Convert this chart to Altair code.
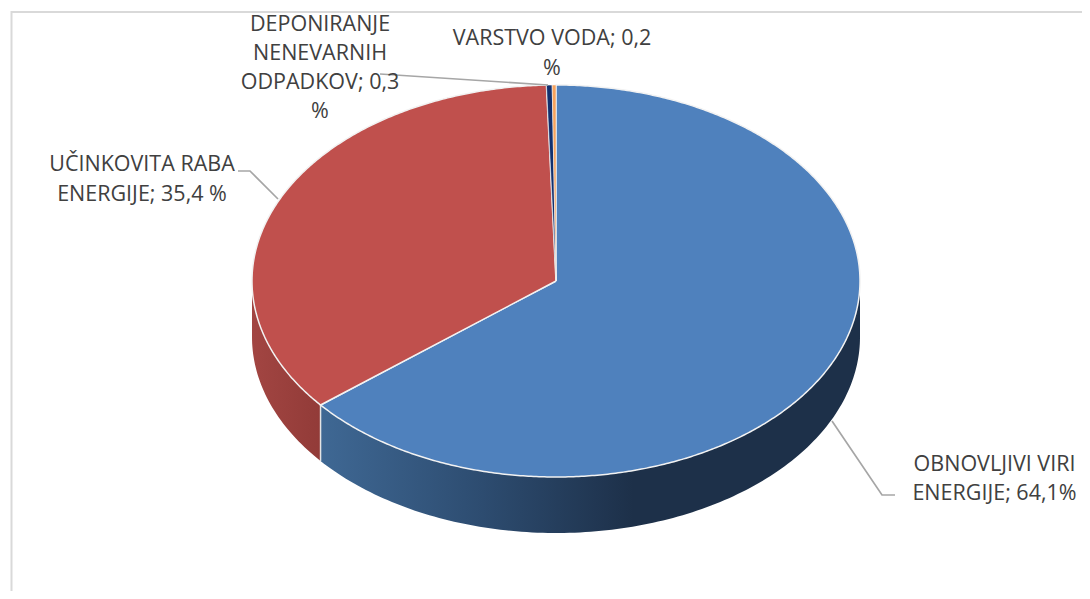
import math
import altair as alt
import pandas as pd

# ---- chart values ----
categories = ["OBNOVLJIVI VIRI ENERGIJE", "UČINKOVITA RABA ENERGIJE",
              "DEPONIRANJE NENEVARNIH ODPADKOV", "VARSTVO VODA"]
shares = [64.1, 35.4, 0.3, 0.2]
label_lines = [
    ["OBNOVLJIVI VIRI", "ENERGIJE; 64,1%"],
    ["UČINKOVITA RABA", "ENERGIJE; 35,4 %"],
    ["DEPONIRANJE", "NENEVARNIH", "ODPADKOV; 0,3", "%"],
    ["VARSTVO VODA; 0,2", "%"],
]

# ---- layout & style (pixel space of the page) ----
CX, CY, RX, RY, DEPTH = 556, 281, 304, 196, 56
top_colors = ["#4f81bd", "#c0504d", "#12306e", "#f7a25c"]
label_anchor = [(994.5, 471, 29), (142, 171, 30), (320, 31, 29), (552, 45, 30)]
leaders = [
    [(832, 421), (882, 495), (895, 495)],
    [(238, 171), (250, 171), (278, 199)],
    [(380, 74), (548, 85)],
]
frame = [(1082, 12), (11.5, 12), (11.5, 591)]
FONT = "Open Sans"

X = alt.X("x:Q", axis=None, scale=alt.Scale(domain=[8, 1082], range=[0, 1074]))
Y = alt.Y("y:Q", axis=None, scale=alt.Scale(domain=[8, 591], range=[0, 583]))


def rim(t, dy=0):
    a = math.radians(t)
    return CX + RX * math.sin(a), CY - RY * math.cos(a) + dy


def arc_points(t0, t1, dy=0, step=1.0):
    n = max(2, int(abs(t1 - t0) / step) + 1)
    return [rim(t0 + (t1 - t0) * k / (n - 1), dy) for k in range(n)]


def df_of(pts):
    return pd.DataFrame({"x": [p[0] for p in pts], "y": [p[1] for p in pts],
                         "i": list(range(len(pts)))})


def path(pts, **mark):
    return alt.Chart(df_of(pts)).mark_line(interpolate="linear", **mark).encode(
        x=X, y=Y, order=alt.Order("i:Q"))


# slice angles from the shares, clockwise from 12 o'clock
edges = [0.0]
for s in shares:
    edges.append(edges[-1] + s * 3.6)

layers = [path(frame, stroke="#d9d9d9", strokeWidth=2)]

# side wall
blue_end = edges[1]
blue_wall = arc_points(90, blue_end) + arc_points(blue_end, 90, DEPTH)
blue_wall.append(blue_wall[0])
red_wall = arc_points(blue_end, 270) + arc_points(270, blue_end, DEPTH)
red_wall.append(red_wall[0])
layers.append(path(blue_wall, strokeOpacity=0, fill=alt.Gradient(
    gradient="linear", x1=0, x2=1, y1=0, y2=0,
    stops=[alt.GradientStop(color="#3f6894", offset=0),
           alt.GradientStop(color="#2d4c70", offset=0.3),
           alt.GradientStop(color="#1d3049", offset=0.58),
           alt.GradientStop(color="#1d3049", offset=1)])))
layers.append(path(red_wall, strokeOpacity=0, fill=alt.Gradient(
    gradient="linear", x1=0, x2=1, y1=0, y2=0,
    stops=[alt.GradientStop(color="#a24542", offset=0),
           alt.GradientStop(color="#923b38", offset=1)])))
layers.append(path([rim(blue_end), rim(blue_end, DEPTH)],
                   stroke="#e4e4e4", strokeWidth=1.5))

# top face
for i, colour in enumerate(top_colors):
    pts = [(CX, CY)] + arc_points(edges[i], edges[i + 1], step=0.5) + [(CX, CY)]
    layers.append(path(pts, fill=colour, stroke="#f2f2f2",
                       strokeWidth=1.5 if shares[i] > 1 else 0.6))

# leader lines
for leader in leaders:
    layers.append(path(leader, stroke="#a6a6a6", strokeWidth=1.7))

# labels
rows = []
for lines, (lx, ly, gap) in zip(label_lines, label_anchor):
    for k, line in enumerate(lines):
        rows.append({"x": lx, "y": ly + k * gap, "t": line})
layers.append(alt.Chart(pd.DataFrame(rows)).mark_text(
    font=FONT, fontSize=21.5, color="#404040", align="center", baseline="alphabetic"
).encode(x=X, y=Y, text="t:N"))

chart = alt.layer(*layers).properties(
    width=1074, height=583, padding=0, autosize="none", background="white"
).configure_view(stroke=None)

chart.save("out.html", embed_options={"renderer": "svg", "actions": False})
